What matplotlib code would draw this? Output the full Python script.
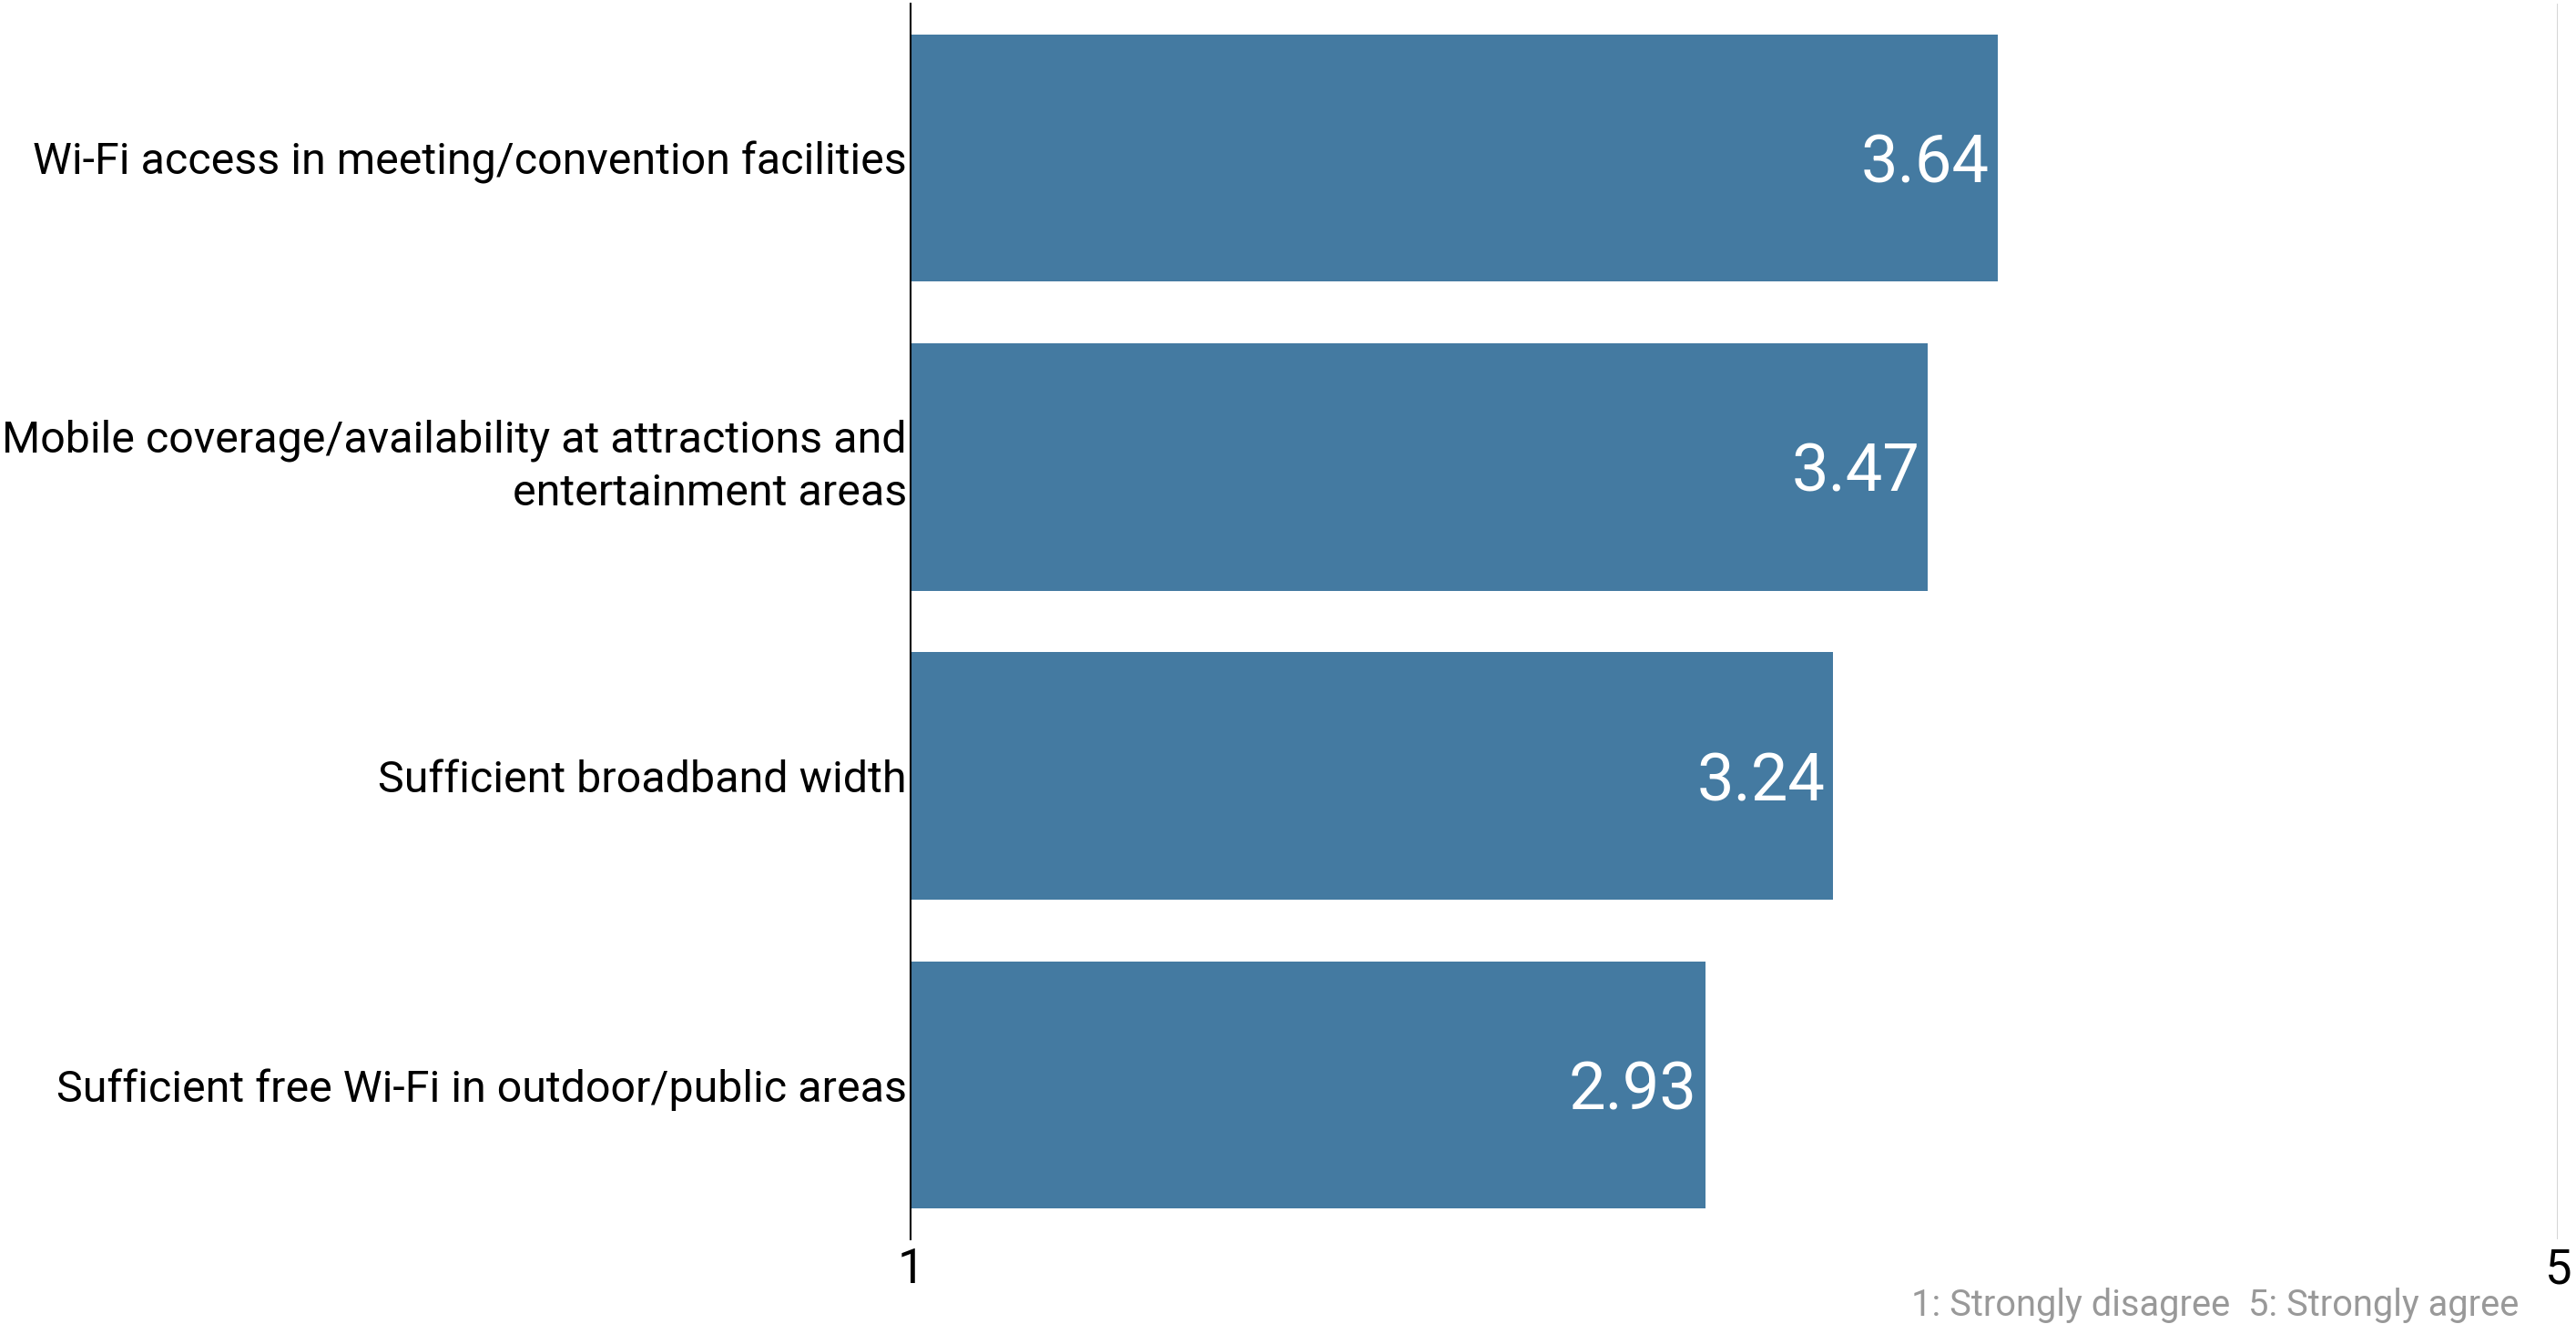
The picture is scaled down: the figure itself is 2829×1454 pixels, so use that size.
import matplotlib
matplotlib.use("Agg")
import matplotlib.pyplot as plt

plt.rcParams["font.family"] = ["Roboto", "DejaVu Sans"]

categories = [
    "Wi-Fi access in meeting/convention facilities",
    "Mobile coverage/availability at attractions and\nentertainment areas",
    "Sufficient broadband width",
    "Sufficient free Wi-Fi in outdoor/public areas",
]
scores = [3.64, 3.47, 3.24, 2.93]
labels = ["3.64", "3.47", "3.24", "2.93"]
xticks = [1, 5]
note = "1: Strongly disagree  5: Strongly agree"

bar_color = "#447aa1"

fig = plt.figure(figsize=(28.29, 14.54), dpi=100)
ax = fig.add_axes([0.3535, 0.064, 0.6395, 0.9332])

ypos = list(range(len(categories)))
ax.barh(ypos, [s - 1 for s in scores], left=1, height=0.8, color=bar_color, zorder=2)

for y, s, lab in zip(ypos, scores, labels):
    ax.text(s - 0.02, y, lab, ha="right", va="center_baseline", color="white",
            fontsize=52, zorder=3)

ax.set_xlim(1, 5)
ax.set_ylim(3.5, -0.5)
ax.set_yticks(ypos)
ax.set_yticklabels(categories, fontsize=34.8, linespacing=1.35)
for t in ax.get_yticklabels():
    if "\n" in t.get_text():
        t.set_va("center")
ax.set_xticks(xticks)
ax.set_xticklabels([str(t) for t in xticks], fontsize=38)
ax.tick_params(axis="y", length=0, pad=3)
ax.tick_params(axis="x", length=0, pad=6)

for side in ["top", "right", "bottom"]:
    ax.spines[side].set_visible(False)
ax.spines["left"].set_color("black")
ax.spines["left"].set_linewidth(1.5)
ax.spines["left"].set_zorder(4)

ax.axvline(5, color="#d0d0d0", linewidth=2, zorder=1)

fig.text(0.978, 0.0065, note, ha="right", va="baseline", color="#999999", fontsize=28.7)

fig.savefig("out.png", dpi=100)
